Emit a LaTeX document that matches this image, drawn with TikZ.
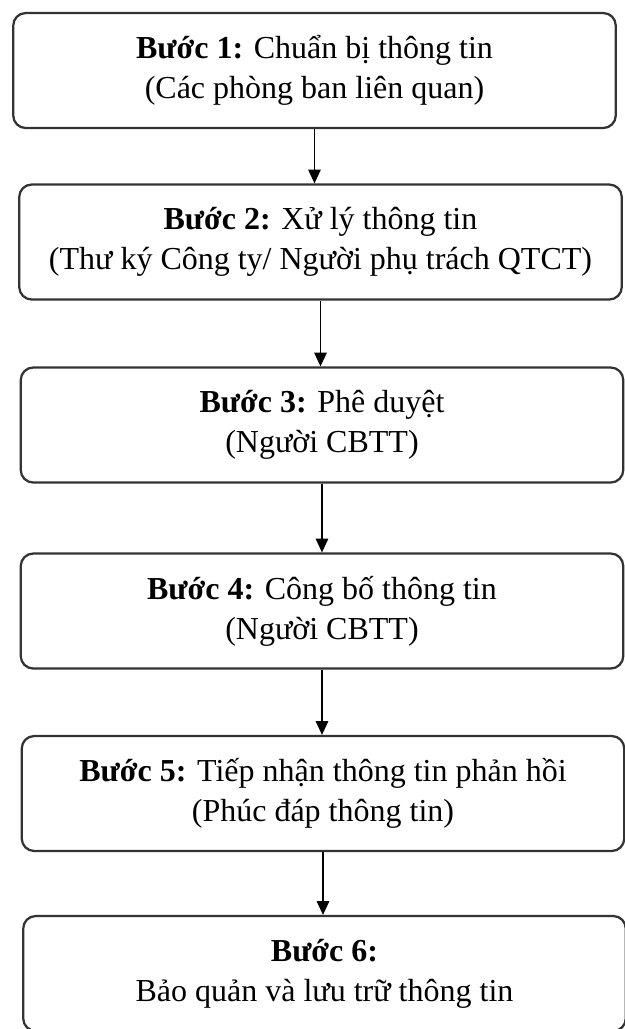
\documentclass[tikz,border=0pt]{standalone}
\usepackage{fontspec}
\setmainfont{Liberation Serif}
\usetikzlibrary{arrows.meta}

\begin{document}
\begin{tikzpicture}[x=0.4pt, y=-0.4pt,
  stepbox/.style={draw=black!80, line width=0.9pt, rounded corners=5pt,
    minimum width=241pt, minimum height=46pt, align=center,
    font=\fontsize{12.8}{16}\selectfont},
  flow/.style={-{Triangle[length=5.5pt,width=5pt]}, line width=0.5pt}]
 % Fix the page to the size of the scan
 \useasboundingbox (0,0) rectangle (625,1029);

 % The six steps, top to bottom
 \node[stepbox] (b1) at (314.5,70.5) {\textbf{Bước 1:} Chuẩn bị thông tin\\(Các phòng ban liên quan)};
 \node[stepbox] (b2) at (320.5,242) {\textbf{Bước 2:} Xử lý thông tin\\(Thư ký Công ty/ Người phụ trách QTCT)};
 \node[stepbox] (b3) at (322,425) {\textbf{Bước 3:} Phê duyệt\\(Người CBTT)};
 \node[stepbox] (b4) at (322,611) {\textbf{Bước 4:} Công bố thông tin\\(Người CBTT)};
 \node[stepbox] (b5) at (323,793.5) {\textbf{Bước 5:} Tiếp nhận thông tin phản hồi\\(Phúc đáp thông tin)};
 \node[stepbox] (b6) at (324.5,973.5) {\textbf{Bước 6:}\\Bảo quản và lưu trữ thông tin};

 % Arrows between the steps
 \foreach \i/\j in {1/2,2/3,3/4,4/5,5/6} {
   \draw[flow] (b\i.south) -- (b\i.south |- b\j.north);
 }
\end{tikzpicture}
\end{document}
